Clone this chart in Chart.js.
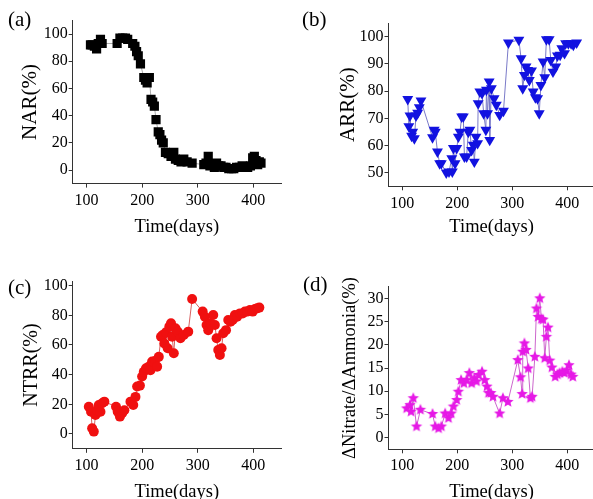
<!DOCTYPE html>
<html>
<head>
<meta charset="utf-8">
<script src="https://cdn.jsdelivr.net/npm/chart.js@4.4.0/dist/chart.umd.min.js"></script>
<style>
  html, body { margin: 0; padding: 0; background: #fff; }
  body { width: 593px; height: 499px; overflow: hidden; position: relative; }
  canvas { position: absolute; }
</style>
</head>
<body>
<canvas id="chartA" width="296" height="250" style="left:0;top:0"></canvas>
<canvas id="chartB" width="310" height="250" style="left:296px;top:0"></canvas>
<canvas id="chartC" width="296" height="260" style="left:0;top:250px"></canvas>
<canvas id="chartD" width="310" height="260" style="left:296px;top:250px"></canvas>
<script>
// shared x ticks
const xTicks = [100, 200, 300, 400];

// (a) NAR
const daysA = [107, 110, 114, 118, 121, 125, 128, 155, 160, 165, 170, 174, 183, 187, 190, 193, 197, 203, 206, 209,
  213, 216, 219, 222, 225, 229, 232, 235, 238, 242, 247, 252, 257, 260, 265, 270, 275, 281, 290, 311,
  315, 319, 322, 326, 330, 334, 338, 342, 347, 351, 356, 361, 365, 370, 375, 380, 385, 390, 395, 399,
  402, 405, 408, 411, 414];
const narA = [92, 92, 91, 89, 93, 96, 93, 93, 97, 97, 97, 96, 93, 91, 87, 84, 78, 68, 66, 64,
  68, 52, 50, 47, 37, 28, 26, 22, 20, 13, 12, 10, 13, 8, 7, 6, 8, 6, 5, 4,
  5, 10, 3, 4, 2, 5, 3, 3, 2, 2, 1, 1, 1, 2, 2, 3, 2, 2, 3, 9,
  10, 7, 4, 6, 5];
const yTicksA = [0, 20, 40, 60, 80, 100];

// (b) ARR
const daysB = [110, 112, 114, 117, 119, 122, 125, 128, 131, 134, 155, 158, 160, 164, 168, 171, 180, 185, 190, 191,
  193, 196, 199, 202, 205, 208, 211, 213, 217, 220, 223, 226, 229, 231, 234, 237, 238, 241, 245, 248,
  252, 253, 255, 258, 259, 262, 267, 271, 277, 284, 293, 312, 316, 319, 322, 325, 328, 331, 335, 338,
  342, 346, 349, 352, 356, 359, 362, 367, 370, 374, 379, 382, 387, 390, 395, 397, 402, 407, 411, 417];
const arrB = [77, 67, 71, 63.5, 65, 62.6, 71, 72, 74, 76.5, 63, 65.7, 65, 57.7, 53.4, 53.4, 50, 50.4, 55.3, 50.4,
  59, 53.4, 59, 63.2, 65, 70.6, 70.6, 55.9, 55.9, 65, 65.7, 58.3, 60.2, 54, 63.2, 60.8, 75.5, 79.8, 79.2, 71.8,
  65.7, 80.4, 71.8, 83.5, 62, 81, 77.3, 74.9, 71.2, 72.7, 97.8, 98.8, 92, 81, 85.9, 89, 87.7, 84, 87.5, 79.8,
  77.7, 77.3, 71.8, 82.2, 90.8, 85, 99, 99, 91.4, 87.1, 89, 93, 93.3, 95.7, 93.9, 97.5, 97.5, 97.5, 97, 97.8];
const yTicksB = [50, 60, 70, 80, 90, 100];

// (c) NTRR
const daysC = [104, 108, 110, 113, 116, 119, 122, 125, 128, 132, 153, 156, 160, 164, 168, 179, 184, 188, 191, 196,
  200, 203, 207, 212, 215, 218, 223, 227, 230, 234, 237, 240, 243, 246, 249, 252, 254, 257, 260, 264,
  269, 275, 283, 290, 309, 313, 316, 319, 322, 325, 328, 331, 334, 337, 340, 343, 346, 351, 355, 359,
  363, 367, 371, 376, 381, 385, 389, 394, 399, 403, 407, 411];
const ntrrC = [18.4, 15, 3.8, 1.6, 12.8, 16, 19.5, 15, 20.7, 21.8, 18.4, 15, 11.7, 14, 16, 21.8, 19.5, 25, 32, 32.6,
  38.7, 42, 44.3, 45.4, 43, 48.8, 49.2, 45.4, 52, 65.6, 66.7, 61, 68.5, 57.8, 72.4, 74.6, 65.6, 54.4, 71.2, 69,
  64.5, 66.7, 69, 91, 82.5, 79, 73.5, 70, 74.6, 73.5, 80.2, 73.5, 64.5, 56.6, 53.3, 57.8, 67.9, 70, 76.9, 75.7,
  76.9, 80.2, 79, 81.3, 81.3, 82.5, 82.5, 83.6, 82.5, 84.3, 84.7, 85.2];
const yTicksC = [0, 20, 40, 60, 80, 100];

// (d) ΔNitrate/ΔAmmonia
const daysD = [108, 114, 116, 120, 126, 133, 155, 160, 166, 171, 178, 184, 189, 193, 199, 202, 207, 212, 217, 222,
  226, 231, 235, 239, 245, 250, 254, 257, 261, 265, 277, 283, 292, 310, 315, 318, 319, 322, 325, 329,
  333, 336, 341, 344, 347, 350, 353, 356, 359, 362, 365, 368, 372, 378, 382, 386, 391, 395, 399, 403,
  407, 410];
const ratioD = [6.3, 7.0, 5.6, 8.5, 2.4, 6.0, 5.1, 2.4, 2.0, 2.4, 5.2, 4.2, 5.2, 6.7, 8.1, 9.9, 12.4, 11.7, 12.4, 13.9,
  11.7, 12.8, 12.1, 13.5, 14.2, 12.4, 11.0, 9.6, 9.6, 8.8, 5.2, 8.5, 7.7, 16.7, 13.0, 9.4, 18.5, 20.3, 18.9, 14.9,
  8.5, 8.8, 17.4, 27.8, 26.0, 30.0, 25.5, 25.4, 17.1, 21.7, 23.7, 16.6, 15.1, 13.1, 13.6, 13.9, 14.2, 13.9, 14.5, 15.6,
  13.6, 13.1];
const yTicksD = [0, 5, 10, 15, 20, 25, 30];

Chart.defaults.font.family = '"Liberation Serif", "Times New Roman", serif';
Chart.defaults.color = '#000';

const panelLabel = {
  id: 'panelLabel',
  afterDraw(chart, args, opts) {
    const ctx = chart.ctx;
    ctx.save();
    ctx.font = '21px "Liberation Serif", serif';
    ctx.fillStyle = '#000';
    ctx.textBaseline = 'alphabetic';
    ctx.fillText(opts.text, opts.x, opts.y);
    ctx.restore();
  }
};

// filled star for panel (d)
function makeStar(color, r) {
  const c = document.createElement('canvas');
  const s = Math.ceil(r * 2 + 2);
  c.width = s; c.height = s;
  const g = c.getContext('2d');
  g.beginPath();
  for (let i = 0; i < 10; i++) {
    const rad = i % 2 === 0 ? r : r * 0.45;
    const a = -Math.PI / 2 + i * Math.PI / 5;
    const px = s / 2 + rad * Math.cos(a), py = s / 2 + rad * Math.sin(a);
    i === 0 ? g.moveTo(px, py) : g.lineTo(px, py);
  }
  g.closePath();
  g.fillStyle = color;
  g.fill();
  return c;
}

function panel(id, o) {
  const points = o.days.map((d, i) => ({ x: d, y: o.values[i] }));
  return new Chart(document.getElementById(id), {
    type: 'scatter',
    data: {
      datasets: [{
        data: points,
        showLine: true,
        borderColor: o.lineColor,
        borderWidth: 1,
        backgroundColor: o.color,
        pointBackgroundColor: o.color,
        pointBorderColor: o.color,
        pointBorderWidth: 0,
        pointStyle: o.pointStyle,
        pointRotation: o.rotation || 0,
        pointRadius: o.radius,
        pointHoverRadius: o.radius
      }]
    },
    options: {
      responsive: false,
      animation: false,
      devicePixelRatio: 1,
      layout: { padding: { top: o.top, right: o.right, bottom: 0, left: 0 } },
      plugins: {
        legend: { display: false },
        tooltip: { enabled: false },
        panelLabel: o.label
      },
      scales: {
        x: {
          type: 'linear',
          min: 75,
          max: 450,
          afterBuildTicks: s => { s.ticks = xTicks.map(v => ({ value: v })); },
          afterFit: s => { s.height = o.xh; },
          grid: { drawOnChartArea: false, drawTicks: true, tickLength: 4, color: '#333' },
          border: { display: true, color: '#333', width: 1 },
          ticks: { font: { size: 16 }, padding: o.xPad, maxRotation: 0 },
          title: { display: true, text: 'Time(days)', font: { size: 18.5 }, padding: { top: 0, bottom: o.xTitlePad } }
        },
        y: {
          min: o.yMin,
          max: o.yMax,
          afterBuildTicks: s => { s.ticks = o.yTicks.map(v => ({ value: v })); },
          afterFit: s => { s.width = o.yw; },
          grid: { drawOnChartArea: false, drawTicks: true, tickLength: 4, color: '#333' },
          border: { display: true, color: '#333', width: 1 },
          ticks: { font: { size: 16 }, padding: 1 },
          title: { display: true, text: o.yTitle, font: { size: o.yTitleSize }, padding: { top: o.yTitlePad, bottom: 0 } }
        }
      }
    },
    plugins: [panelLabel]
  });
}

panel('chartA', {
  days: daysA, values: narA, yTicks: yTicksA, yMin: -10, yMax: 110,
  color: '#000', lineColor: '#aaa', pointStyle: 'rect', radius: 6.5,
  top: 20.4, right: 15, yw: 72.7, xh: 66.4, xPad: 4, xTitlePad: 12,
  yTitle: 'NAR(%)', yTitleSize: 21, yTitlePad: 18,
  label: { text: '(a)', x: 8, y: 26 }
});

panel('chartB', {
  days: daysB, values: arrB, yTicks: yTicksB, yMin: 45, yMax: 105,
  color: '#1212e0', lineColor: '#7a7ac8', pointStyle: 'triangle', rotation: 180, radius: 6.3,
  top: 23.1, right: 11.2, yw: 92.5, xh: 63.7, xPad: 4, xTitlePad: 12,
  yTitle: 'ARR(%)', yTitleSize: 21, yTitlePad: 40,
  label: { text: '(b)', x: 6, y: 26 }
});

panel('chartC', {
  days: daysC, values: ntrrC, yTicks: yTicksC, yMin: -10, yMax: 103,
  color: '#f01010', lineColor: '#d86060', pointStyle: 'circle', radius: 5,
  top: 31.2, right: 15, yw: 72.7, xh: 61.2, xPad: 3, xTitlePad: 7,
  yTitle: 'NTRR(%)', yTitleSize: 20, yTitlePad: 20,
  label: { text: '(c)', x: 8, y: 44 }
});

panel('chartD', {
  days: daysD, values: ratioD, yTicks: yTicksD, yMin: -2.5, yMax: 32.5,
  color: '#e619e6', lineColor: '#cc66cc', pointStyle: makeStar('#e619e6', 6), radius: 5,
  top: 36.7, right: 11.2, yw: 92.5, xh: 60.7, xPad: 3, xTitlePad: 7,
  yTitle: 'ΔNitrate/ΔAmmonia(%)', yTitleSize: 18.5, yTitlePad: 43,
  label: { text: '(d)', x: 7, y: 41 }
});
</script>
</body>
</html>
